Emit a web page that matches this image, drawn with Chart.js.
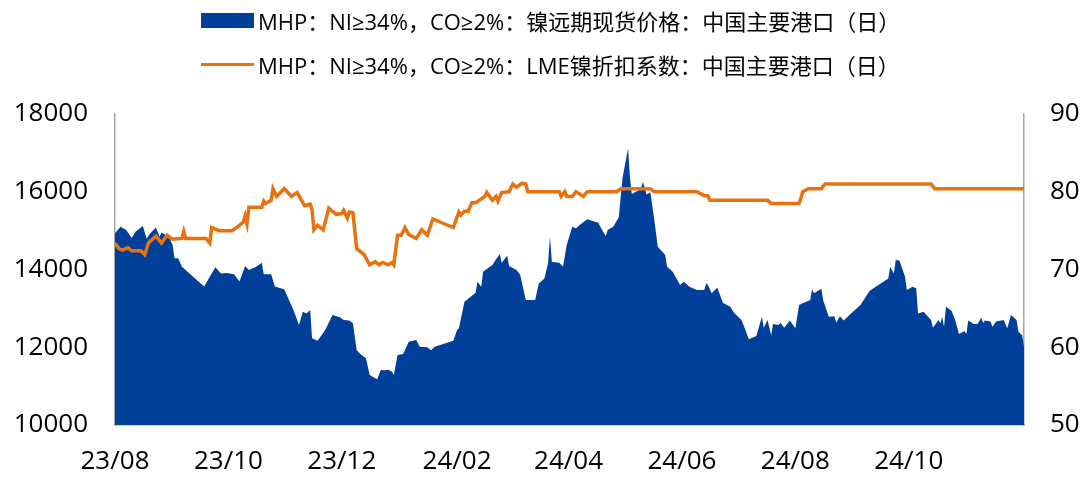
<!DOCTYPE html>
<html>
<head>
<meta charset="utf-8">
<script src="https://cdn.jsdelivr.net/npm/chart.js@4.4.0/dist/chart.umd.min.js"></script>
<style>
  html, body { margin: 0; padding: 0; background: #fff; }
  .wrap { position: relative; width: 1086px; height: 477px; }
  .lg { position: absolute; left: 201px; height: 30px; display: flex; align-items: center; white-space: nowrap;
        font-family: 'Open Sans', 'Noto Sans CJK SC', sans-serif; font-size: 22px; color: #000; }
  .lg-0 { top: 5px; }
  .lg-1 { top: 49px; }
  .lg-key { width: 53px; margin-right: 4px; }
</style>
</head>
<body>
<div class="wrap">
  <canvas id="c" width="1086" height="477"></canvas>
  <div id="legend"></div>
</div>
<script>
  // x = days since 2023-08-01
  const tickLabels = ['23/08', '23/10', '23/12', '24/02', '24/04', '24/06', '24/08', '24/10'];

  const areaDays = [
    0, 3, 6, 9, 11, 15, 17, 19, 22, 24,
    25, 29, 31, 32, 34, 36, 38, 42, 48, 51,
    54, 57, 60, 64, 67, 70, 72, 76, 79, 80,
    84, 86, 91, 96, 99, 101, 103, 105, 106, 109,
    113, 117, 121, 123, 126, 128, 130, 132, 135, 137,
    141, 143, 145, 147, 149, 150, 152, 155, 158, 162,
    164, 168, 170, 172, 182, 184, 185, 188, 194, 195,
    197, 198, 203, 205, 207, 208, 211, 212, 216, 218,
    221, 226, 228, 231, 233, 234, 235, 239, 241, 243,
    246, 248, 250, 254, 260, 262, 264, 265, 268, 271,
    273, 276, 277, 278, 282, 283, 284, 286, 288, 290,
    292, 296, 297, 300, 304, 306, 309, 313, 317, 318,
    319, 321, 324, 327, 331, 333, 337, 339, 341, 345,
    348, 349, 351, 353, 354, 357, 358, 360, 363, 366,
    368, 370, 374, 375, 376, 380, 381, 384, 387, 388,
    390, 392, 397, 401, 406, 416, 417, 419, 420, 422,
    425, 426, 429, 431, 432, 435, 439, 440, 443, 444,
    445, 446, 447, 450, 452, 454, 457, 458, 459, 462,
    464, 466, 467, 468, 471, 472, 474, 478, 480, 482,
    485, 486, 488, 489
  ];
  const areaValues = [
    14930, 15100, 15015, 14810, 14970, 15120, 14800, 14930, 15080, 14840,
    14950, 14840, 14630, 14290, 14290, 14070, 13990, 13815, 13560, 13815,
    14060, 13900, 13910, 13880, 13690, 14090, 13990, 14070, 14175, 13880,
    13880, 13560, 13490, 12960, 12570, 12915, 12870, 12960, 12230, 12170,
    12440, 12830, 12770, 12700, 12686, 12615, 11930, 11826, 11715, 11286,
    11175, 11415, 11407, 11423, 11372, 11286, 11800, 11826, 12143, 12186,
    12014, 12000, 11920, 12014, 12169, 12443, 12486, 13171, 13403, 13686,
    13557, 13943, 14115, 14261, 14398, 14175, 14355, 14090, 13986, 13860,
    13215, 13215, 13643, 13771, 14175, 14843, 14200, 14175, 14072, 14630,
    15100, 15060, 15144, 15290, 15200, 15015, 14860, 15015, 15100, 15340,
    16345, 17117, 16387, 15940, 16045, 16100, 16260, 15930, 15990, 15316,
    14586, 14372, 14072, 13943, 13600, 13686, 13557, 13472, 13472, 13643,
    13600, 13387, 13540, 13146, 13043, 12890, 12700, 12461, 12203, 12289,
    12786, 12500, 12700, 12306, 12598, 12572, 12630, 12500, 12686, 12486,
    13086, 13130, 13215, 13490, 13387, 13506, 13200, 12786, 12800, 12630,
    12800, 12686, 12915, 13086, 13455, 13771, 14072, 13900, 14244, 14230,
    13815, 13472, 13557, 13515, 12870, 12915, 12700, 12500, 12700, 12615,
    12786, 12530, 13043, 12940, 12700, 12340, 12420, 12340, 12690, 12600,
    12600, 12760, 12630, 12690, 12660, 12530, 12660, 12700, 12490, 12830,
    12700, 12400, 12310, 12014
  ];

  const lineDays = [
    0, 2, 4, 7, 9, 14, 16, 18, 22, 25,
    28, 31, 36, 37, 38, 49, 51, 52, 56, 63,
    66, 69, 70, 71, 72, 79, 80, 81, 84, 85,
    87, 91, 95, 98, 102, 105, 106, 107, 109, 112,
    115, 119, 122, 123, 125, 126, 128, 130, 134, 137,
    140, 142, 144, 147, 149, 150, 152, 154, 156, 158,
    162, 165, 168, 171, 182, 185, 186, 188, 190, 192,
    194, 199, 200, 203, 205, 206, 208, 212, 214, 216,
    219, 221, 222, 239, 240, 242, 243, 246, 248, 252,
    254, 270, 272, 288, 290, 313, 317, 319, 320, 351,
    353, 368, 369, 370, 373, 380, 382, 439, 441, 489
  ];
  const lineValues = [
    73.4, 72.7, 72.5, 72.8, 72.4, 72.4, 71.9, 73.4, 74.3, 73.4,
    74.4, 73.9, 74.0, 74.9, 74.0, 74.0, 73.4, 75.4, 75.0, 75.0,
    75.5, 76.1, 76.9, 75.9, 78.0, 78.0, 78.8, 78.5, 78.9, 80.4,
    79.4, 80.4, 79.4, 79.9, 78.2, 78.4, 77.7, 75.1, 75.7, 75.1,
    77.9, 77.1, 77.2, 77.6, 76.6, 77.4, 77.3, 72.7, 71.9, 70.6,
    71.0, 70.6, 70.9, 70.6, 70.9, 70.6, 74.4, 74.4, 75.4, 74.5,
    74.0, 75.1, 74.4, 76.5, 75.4, 77.4, 77.0, 77.5, 77.5, 78.6,
    78.6, 79.4, 79.9, 78.9, 79.4, 78.8, 79.9, 80.0, 81.0, 80.6,
    81.1, 81.0, 80.0, 80.0, 79.4, 80.0, 79.4, 79.4, 80.0, 79.4,
    80.0, 80.0, 80.4, 80.4, 80.0, 80.0, 79.5, 79.5, 78.9, 78.9,
    78.5, 78.5, 79.2, 80.0, 80.4, 80.4, 81.0, 81.0, 80.4, 80.4
  ];

  const BLUE = '#00409a';
  const ORANGE = '#e8720f';
  const AXIS_GREY = '#a6a6a6';
  const tickFont = { family: "'Open Sans', 'Noto Sans', sans-serif", size: 26 };

  // tick positions: first day of each labelled month
  const start = Date.UTC(2023, 7, 1);
  const tickDays = tickLabels.map(t => {
    const [yy, mm] = t.split('/').map(Number);
    return (Date.UTC(2000 + yy, mm - 1, 1) - start) / 86400000;
  });

  const chart = new Chart(document.getElementById('c'), {
    type: 'line',
    data: {
      datasets: [{
        label: 'MHP：NI≥34%，CO≥2%：镍远期现货价格：中国主要港口（日）',
        data: areaDays.map((d, i) => ({ x: d, y: areaValues[i] })),
        yAxisID: 'y',
        fill: 'start',
        backgroundColor: BLUE,
        borderColor: BLUE,
        borderWidth: 0,
        pointRadius: 0,
        tension: 0,
        order: 1
      }, {
        label: 'MHP：NI≥34%，CO≥2%：LME镍折扣系数：中国主要港口（日）',
        data: lineDays.map((d, i) => ({ x: d, y: lineValues[i] })),
        yAxisID: 'y1',
        fill: false,
        borderColor: ORANGE,
        backgroundColor: ORANGE,
        borderWidth: 3.5,
        pointRadius: 0,
        tension: 0,
        order: 0
      }]
    },
    options: {
      responsive: false,
      animation: false,
      layout: { padding: { top: 114, left: 0, right: 0, bottom: 0 } },
      plugins: { legend: { display: false }, tooltip: { enabled: false } },
      scales: {
        x: {
          type: 'linear',
          min: 0,
          max: areaDays[areaDays.length - 1],
          grid: { display: false, drawTicks: false },
          border: { color: AXIS_GREY, width: 1.5 },
          afterBuildTicks: axis => { axis.ticks = tickDays.map(v => ({ value: v })); },
          ticks: {
            autoSkip: false, maxRotation: 0, padding: 21, color: '#000', font: tickFont,
            callback: (v, i) => tickLabels[i]
          },
          afterFit: s => { s.height = 52; }
        },
        y: {
          position: 'left',
          min: 10000, max: 18000,
          grid: { display: false, drawTicks: false },
          border: { color: AXIS_GREY, width: 1.5 },
          ticks: { stepSize: 2000, padding: 27, color: '#000', font: tickFont, callback: v => String(v) },
          afterFit: s => { s.width = 115; }
        },
        y1: {
          position: 'right',
          min: 50, max: 90,
          grid: { display: false, drawTicks: false },
          border: { color: AXIS_GREY, width: 1.5 },
          ticks: { stepSize: 10, padding: 26, color: '#000', font: tickFont, callback: v => String(v) },
          afterFit: s => { s.width = 62; }
        }
      }
    }
  });

  // legend as html, built from the datasets
  const legendEl = document.getElementById('legend');
  chart.data.datasets.forEach((ds, i) => {
    const row = document.createElement('div');
    row.className = 'lg lg-' + i;
    const key = document.createElement('span');
    key.className = 'lg-key';
    key.style.background = i === 0 ? ds.backgroundColor : ds.borderColor;
    key.style.height = i === 0 ? '15px' : '3px';
    row.appendChild(key);
    row.appendChild(document.createTextNode(ds.label));
    legendEl.appendChild(row);
  });
</script>
</body>
</html>
